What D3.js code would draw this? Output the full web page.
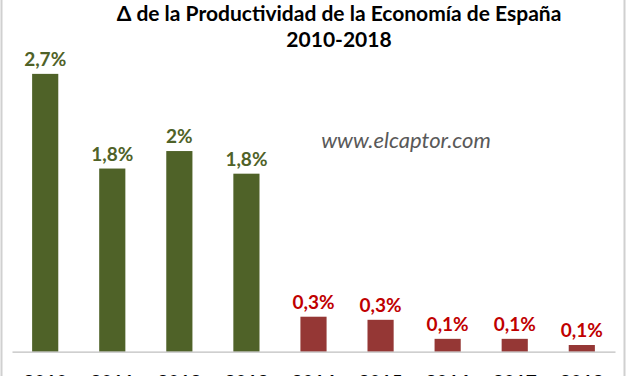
<!DOCTYPE html>
<html>
<head>
<meta charset="utf-8">
<script src="https://cdn.jsdelivr.net/npm/d3@7"></script>
<style>
  body { margin: 0; background: #fff; }
  svg { display: block; font-family: Lato, 'Noto Sans', sans-serif; }
</style>
</head>
<body>
<div id="chart"></div>
<script>
const years = ['2010', '2011', '2012', '2013', '2014', '2015', '2016', '2017', '2018']
const values = [2.7, 1.78, 1.95, 1.73, 0.34, 0.31, 0.125, 0.125, 0.065]
const labels = ['2,7%', '1,8%', '2%', '1,8%', '0,3%', '0,3%', '0,1%', '0,1%', '0,1%']
const titleLines = ['\u0394 de la Productividad de la Econom\u00eda de Espa\u00f1a', '2010-2018']

const width = 627
const height = 376
const margin = { top: 43, right: 12, bottom: 25, left: 12 }
const boundedWidth = width - margin.left - margin.right
const boundedHeight = height - margin.top - margin.bottom

const barColor = (i) => (i < 4 ? '#4f6228' : '#953735')
const labelColor = (i) => (i < 4 ? '#4f6228' : '#c00000')

const wrapper = d3.select('#chart')
  .append('svg')
  .attr('width', width)
  .attr('height', height)

// chart border (left and right edges visible)
wrapper.append('line')
  .attr('x1', 1.5).attr('x2', 1.5).attr('y1', 0).attr('y2', height)
  .attr('stroke', '#d0d0d0').attr('stroke-width', 2)
wrapper.append('line')
  .attr('x1', 624.5).attr('x2', 624.5).attr('y1', 0).attr('y2', height)
  .attr('stroke', '#d0d0d0').attr('stroke-width', 2)

// title
wrapper.append('g')
  .selectAll('text')
  .data(titleLines)
  .join('text')
  .attr('x', 339)
  .attr('y', (d, i) => 21 + i * 26)
  .attr('text-anchor', 'middle')
  .attr('font-size', 21)
  .attr('font-weight', 'bold')
  .attr('fill', '#000')
  .text((d) => d)

const bounds = wrapper.append('g')
  .attr('transform', `translate(${margin.left}, ${margin.top})`)

const xScale = d3.scaleBand()
  .domain(years)
  .range([0, boundedWidth])
  .paddingInner(0.61)
  .paddingOuter(0.3)

const yScale = d3.scaleLinear()
  .domain([0, 3])
  .range([boundedHeight + 0.7, 0])

// bars
bounds.append('g')
  .selectAll('rect')
  .data(values)
  .join('rect')
  .attr('x', (d, i) => xScale(years[i]))
  .attr('y', (d) => yScale(d))
  .attr('width', xScale.bandwidth())
  .attr('height', (d) => yScale(0) - yScale(d))
  .attr('fill', (d, i) => barColor(i))

// value labels
bounds.append('g')
  .selectAll('text')
  .data(values)
  .join('text')
  .attr('x', (d, i) => xScale(years[i]) + xScale.bandwidth() / 2)
  .attr('y', (d) => yScale(d) - 8)
  .attr('text-anchor', 'middle')
  .attr('font-size', 19)
  .attr('font-weight', 'bold')
  .attr('fill', (d, i) => labelColor(i))
  .text((d, i) => labels[i])

// x axis
const xAxis = bounds.append('g')
  .attr('transform', `translate(0, ${yScale(0)})`)
  .call(d3.axisBottom(xScale).tickSize(0).tickPadding(24))
xAxis.select('.domain').attr('stroke', '#bfbfbf').attr('stroke-width', 1.3)
xAxis.selectAll('text')
  .attr('font-size', 19)
  .attr('font-weight', 'bold')
  .attr('fill', '#000')
  .attr('font-family', 'Lato, sans-serif')

// watermark
wrapper.append('text')
  .attr('x', 406)
  .attr('y', 148)
  .attr('text-anchor', 'middle')
  .attr('font-size', 22)
  .attr('font-style', 'italic')
  .attr('fill', '#595959')
  .text('www.elcaptor.com')
</script>
</body>
</html>
